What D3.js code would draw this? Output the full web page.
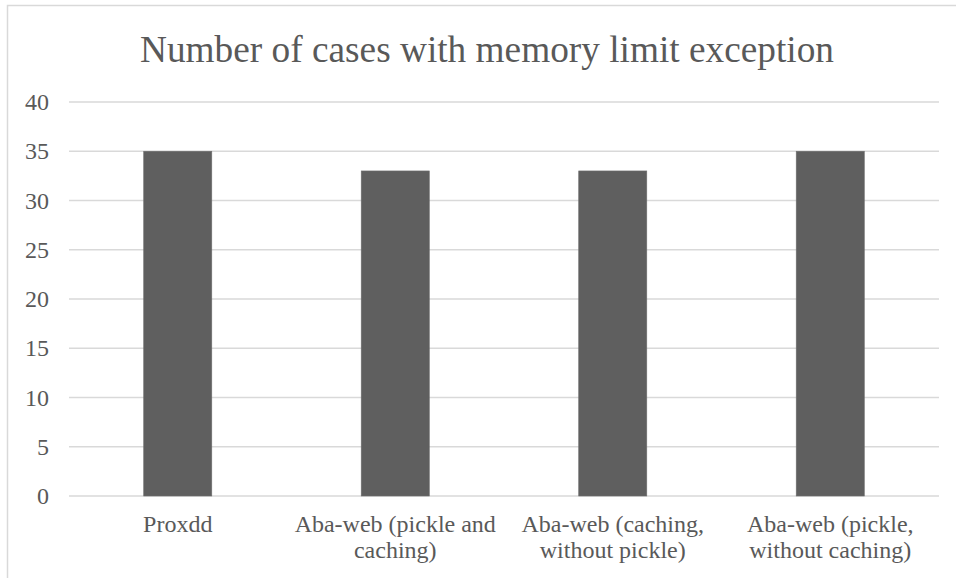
<!DOCTYPE html>
<html>
<head>
<meta charset="utf-8">
<script src="https://cdn.jsdelivr.net/npm/d3@7"></script>
<style>
  html, body { margin: 0; padding: 0; background: #fff; }
  svg { display: block; }
  text { font-family: "Liberation Serif", "Times New Roman", serif; fill: #595959; }
</style>
</head>
<body>
<svg id="chart" width="956" height="578"></svg>
<script>
const title = "Number of cases with memory limit exception";
const categories = [
  "Proxdd",
  "Aba-web (pickle and caching)",
  "Aba-web (caching, without pickle)",
  "Aba-web (pickle, without caching)"
];
const values = [35, 33, 33, 35];
const yTicks = [0, 5, 10, 15, 20, 25, 30, 35, 40];

const svg = d3.select("#chart");
const W = 956, H = 578;
const margin = { left: 69, right: 17, top: 102, bottom: 82 };
const plotW = W - margin.left - margin.right;
const plotH = H - margin.top - margin.bottom;
const serif = '"Liberation Serif", "Times New Roman", serif';

// chart-area border (extends past right/bottom edges as in the reference crop)
svg.append("rect")
  .attr("x", 7.5).attr("y", 5.5)
  .attr("width", 1200).attr("height", 1200)
  .attr("fill", "none").attr("stroke", "#d9d9d9").attr("stroke-width", 1.5);

const x = d3.scaleBand().domain(categories).range([margin.left, margin.left + plotW]).padding(0);
const y = d3.scaleLinear().domain([0, 40]).range([margin.top + plotH, margin.top]);

// gridlines
svg.append("g").selectAll("line").data(yTicks).join("line")
  .attr("x1", margin.left).attr("x2", margin.left + plotW)
  .attr("y1", d => y(d)).attr("y2", d => y(d))
  .attr("stroke", "#d9d9d9").attr("stroke-width", 1.5);

// y axis labels
const yAxis = d3.axisLeft(y).tickValues(yTicks).tickSize(0).tickPadding(20);
const ya = svg.append("g").attr("transform", `translate(${margin.left},0)`).call(yAxis);
ya.select(".domain").remove();
ya.selectAll("text").style("font-size", "24px").attr("fill", "#595959")
  .style("font-family", serif);

// bars
const barW = x.bandwidth() * 0.313;
svg.append("g").selectAll("rect").data(values).join("rect")
  .attr("x", (d, i) => x(categories[i]) + x.bandwidth() / 2 - barW / 2)
  .attr("width", barW)
  .attr("y", d => y(d))
  .attr("height", d => y(0) - y(d))
  .attr("fill", "#5f5f5f")
  .attr("stroke", "#6e6e6e").attr("stroke-width", 0.6);

// category labels with wrapping
const labG = svg.append("g");
categories.forEach(c => {
  const cx = x(c) + x.bandwidth() / 2;
  const t = labG.append("text")
    .attr("x", cx)
    .attr("y", 532)
    .attr("text-anchor", "middle")
    .style("font-family", serif)
    .style("font-size", "24px");
  const words = c.split(" ");
  let line = [];
  let ts = t.append("tspan").attr("x", cx).attr("dy", 0);
  words.forEach(w => {
    line.push(w);
    ts.text(line.join(" "));
    if (ts.node().getComputedTextLength() > 205 && line.length > 1) {
      line.pop();
      ts.text(line.join(" "));
      line = [w];
      ts = t.append("tspan").attr("x", cx).attr("dy", 26).text(w);
    }
  });
});

// title
svg.append("text")
  .attr("x", 487).attr("y", 62)
  .attr("text-anchor", "middle")
  .style("font-family", serif)
  .style("font-size", "37.3px")
  .text(title);
</script>
</body>
</html>
